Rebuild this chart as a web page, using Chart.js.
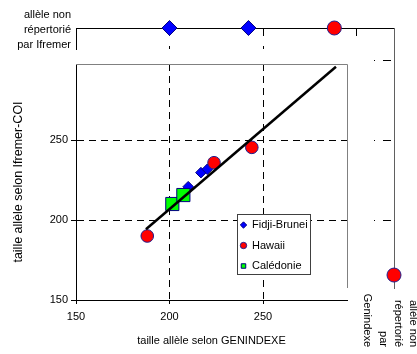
<!DOCTYPE html>
<html>
<head>
<meta charset="utf-8">
<script src="https://cdn.jsdelivr.net/npm/chart.js@4.4.1/dist/chart.umd.min.js"></script>
<style>
  body { margin: 0; background: #fff; }
  .wrap { position: relative; width: 417px; height: 354px; overflow: hidden; }
  .wrap canvas { position: absolute; left: 0; top: 0; }
  .legend_box { position: absolute; left: 237px; top: 214px; width: 74px; height: 61px;
    box-sizing: border-box; border: 1px solid #404040; background: #fff; }
</style>
</head>
<body>
<div class="wrap">
  <canvas class="main_graph" width="417" height="354"></canvas>
  <canvas class="top_graph" width="417" height="354"></canvas>
  <canvas class="right_graph" width="417" height="354"></canvas>
  <div class="legend_box"></div>
  <canvas class="legend_graph" width="200" height="80" style="left:231px; top:210px;"></canvas>
</div>
<script>
//data
const fidjiX = [210, 216.8, 220.2];
const fidjiY = [220.8, 229.6, 231.7];
const hawaiiX = [188.1, 223.8, 244];
const hawaiiY = [190, 235.8, 245.4];
const caledonieX = [201.5, 207.4];
const caledonieY = [210, 215.6];
//regression line ends
const fitX = [187.4, 289];
const fitY = [194.2, 295.8];
//allèle non répertorié par Ifremer (top strip)
const topFidjiX = [200, 242.2];
const topHawaiiX = [288.1];
//allèle non répertorié par Genindexe (right strip)
const rightHawaiiY = [165.6];

const xTicks = [150, 200, 250];
const yTicks = [150, 200, 250];
const topTicks = [150, 200, 250, 300];
const rightTicks = [200, 250, 300];

const topLabel = ['allèle non', 'répertorié', 'par Ifremer'];
const rightLabel = ['allèle non', 'répertorié', 'par', 'Genindexe'];
const labels = ['Fidji-Brunei', 'Hawaii', 'Calédonie'];

Chart.defaults.font.family = "'Liberation Sans', Arial, sans-serif";
Chart.defaults.font.size = 11;
Chart.defaults.color = '#000';
Chart.defaults.animation = false;

const pts = (xs, ys) => xs.map((x, i) => ({ x: x, y: ys[i] }));
const setTicks = (list) => (scale) => { scale.ticks = list.map(v => ({ value: v })); };

const fidjiStyle = { pointStyle: 'rectRot', backgroundColor: '#0000ff', borderColor: '#000080', borderWidth: 1 };
const hawaiiStyle = { pointStyle: 'circle', backgroundColor: '#ff0000', borderColor: '#1f1f8f', borderWidth: 1 };
const caledonieStyle = { pointStyle: 'rect', backgroundColor: '#00ff00', borderColor: '#000080', borderWidth: 1 };

//main graph
const mainFrame = {
  id: 'mainFrame',
  beforeDatasetsDraw(chart) {
    const { ctx, chartArea } = chart;
    const bottom = chart.scales.y.getPixelForValue(157.5);
    ctx.save();
    ctx.strokeStyle = '#808080';
    ctx.lineWidth = 1;
    ctx.beginPath();
    ctx.moveTo(chartArea.left, chartArea.top + 0.5);
    ctx.lineTo(chartArea.right + 0.5, chartArea.top + 0.5);
    ctx.lineTo(chartArea.right + 0.5, bottom);
    ctx.stroke();
    ctx.restore();
  }
};

const gridColor = (c) => (c.tick && c.tick.value === 150) ? 'rgba(0,0,0,0)' : '#000';

new Chart(document.querySelector('.main_graph'), {
  type: 'scatter',
  data: {
    datasets: [
      Object.assign({ label: labels[0], data: pts(fidjiX, fidjiY), pointRadius: 5.3, order: 4 }, fidjiStyle),
      Object.assign({ label: labels[1], data: pts(hawaiiX, hawaiiY), pointRadius: 6.3, order: 3 }, hawaiiStyle),
      Object.assign({ label: labels[2], data: pts(caledonieX, caledonieY), pointRadius: 9.3, order: 2 }, caledonieStyle),
      { label: 'fit', data: pts(fitX, fitY), showLine: true, pointRadius: 0, borderColor: '#000', borderWidth: 2.5, order: 1 }
    ]
  },
  options: {
    responsive: false,
    layout: { padding: { left: 7, top: 64, right: 70, bottom: 2 } },
    plugins: { legend: { display: false }, tooltip: { enabled: false } },
    scales: {
      x: {
        type: 'linear', min: 150, max: 294.9,
        afterBuildTicks: setTicks(xTicks),
        afterFit: (s) => { s.height = 52; },
        grid: { color: gridColor, tickColor: '#000', tickLength: 4 },
        border: { color: '#000', width: 1, dash: [7, 5] },
        ticks: { padding: 6, maxRotation: 0 },
        title: { display: true, text: 'taille allèle selon GENINDEXE', padding: 4 }
      },
      y: {
        type: 'linear', min: 150, max: 297.5,
        afterBuildTicks: setTicks(yTicks),
        afterFit: (s) => { s.width = 69; },
        grid: { color: gridColor, tickColor: '#000', tickLength: 5 },
        border: { color: '#000', width: 1, dash: [7, 5] },
        ticks: { padding: 3 },
        title: { display: true, text: 'taille allèle selon Ifremer-COI', padding: { top: 4, bottom: 0 }, font: { size: 12.5 } }
      }
    }
  },
  plugins: [mainFrame]
});

//top strip : non répertorié par Ifremer
new Chart(document.querySelector('.top_graph'), {
  type: 'scatter',
  data: {
    datasets: [
      Object.assign({ label: labels[0], data: topFidjiX.map(x => ({ x: x, y: 1 })), pointRadius: 7.5, clip: false }, fidjiStyle),
      Object.assign({ label: labels[1], data: topHawaiiX.map(x => ({ x: x, y: 1 })), pointRadius: 7, clip: false }, hawaiiStyle)
    ]
  },
  options: {
    responsive: false,
    layout: { padding: { left: 0, top: 0, right: 23, bottom: 305 } },
    plugins: { legend: { display: false }, tooltip: { enabled: false } },
    scales: {
      x: {
        type: 'linear', position: 'top', min: 150, max: 320,
        afterBuildTicks: setTicks(topTicks),
        afterFit: (s) => { s.height = 28; },
        ticks: { display: false },
        grid: { color: gridColor, drawTicks: false },
        border: { color: '#000', dash: (c) => (c.tick && c.tick.value === 300) ? [7, 100] : [7, 10] }
      },
      y: {
        type: 'linear', min: 0, max: 1,
        //label tick sits a little under the axis line
        afterBuildTicks: (s) => { s.ticks = [{ value: 0.9 }]; },
        afterFit: (s) => { s.width = 76; },
        ticks: { callback: () => topLabel, padding: 5, font: { lineHeight: 1.36 } },
        grid: { display: false, drawTicks: false },
        border: { color: '#000' }
      }
    }
  }
});

//right strip : non répertorié par Genindexe
const rightText = {
  id: 'rightText',
  afterDraw(chart) {
    const ctx = chart.ctx;
    const cols = [413, 398, 383, 367];
    ctx.save();
    ctx.font = "11px 'Liberation Sans', Arial, sans-serif";
    ctx.fillStyle = '#000';
    ctx.textAlign = 'right';
    ctx.textBaseline = 'middle';
    rightLabel.forEach((line, i) => {
      ctx.save();
      ctx.translate(cols[i], 347);
      ctx.rotate(Math.PI / 2);
      ctx.fillText(line, 0, 0);
      ctx.restore();
    });
    ctx.restore();
  }
};

new Chart(document.querySelector('.right_graph'), {
  type: 'scatter',
  data: {
    datasets: [
      Object.assign({ label: labels[1], data: rightHawaiiY.map(y => ({ x: 1, y: y })), pointRadius: 7, clip: false }, hawaiiStyle)
    ]
  },
  options: {
    responsive: false,
    layout: { padding: { left: 347, top: 28, right: 0, bottom: 66 } },
    plugins: { legend: { display: false }, tooltip: { enabled: false } },
    scales: {
      x: { type: 'linear', display: false, min: 0, max: 1 },
      y: {
        type: 'linear', position: 'right', min: 157.5, max: 320,
        afterBuildTicks: setTicks(rightTicks),
        afterFit: (s) => { s.width = 23; },
        ticks: { display: false },
        grid: { color: '#000', drawTicks: false },
        border: { color: '#606060', dash: [0, 27, 1, 8, 8, 100] }
      }
    }
  },
  plugins: [rightText]
});

//legend
new Chart(document.querySelector('.legend_graph'), {
  type: 'scatter',
  data: {
    datasets: [
      Object.assign({ label: labels[0], data: [] }, fidjiStyle),
      Object.assign({ label: labels[1], data: [] }, hawaiiStyle),
      Object.assign({ label: labels[2], data: [] }, caledonieStyle)
    ]
  },
  options: {
    responsive: false,
    layout: { padding: 0 },
    plugins: {
      tooltip: { enabled: false },
      legend: {
        position: 'left', align: 'start',
        labels: { usePointStyle: true, boxWidth: 6, boxHeight: 4.5, padding: 9.5, color: '#000' }
      }
    },
    scales: { x: { display: false }, y: { display: false } }
  }
});
</script>
</body>
</html>
